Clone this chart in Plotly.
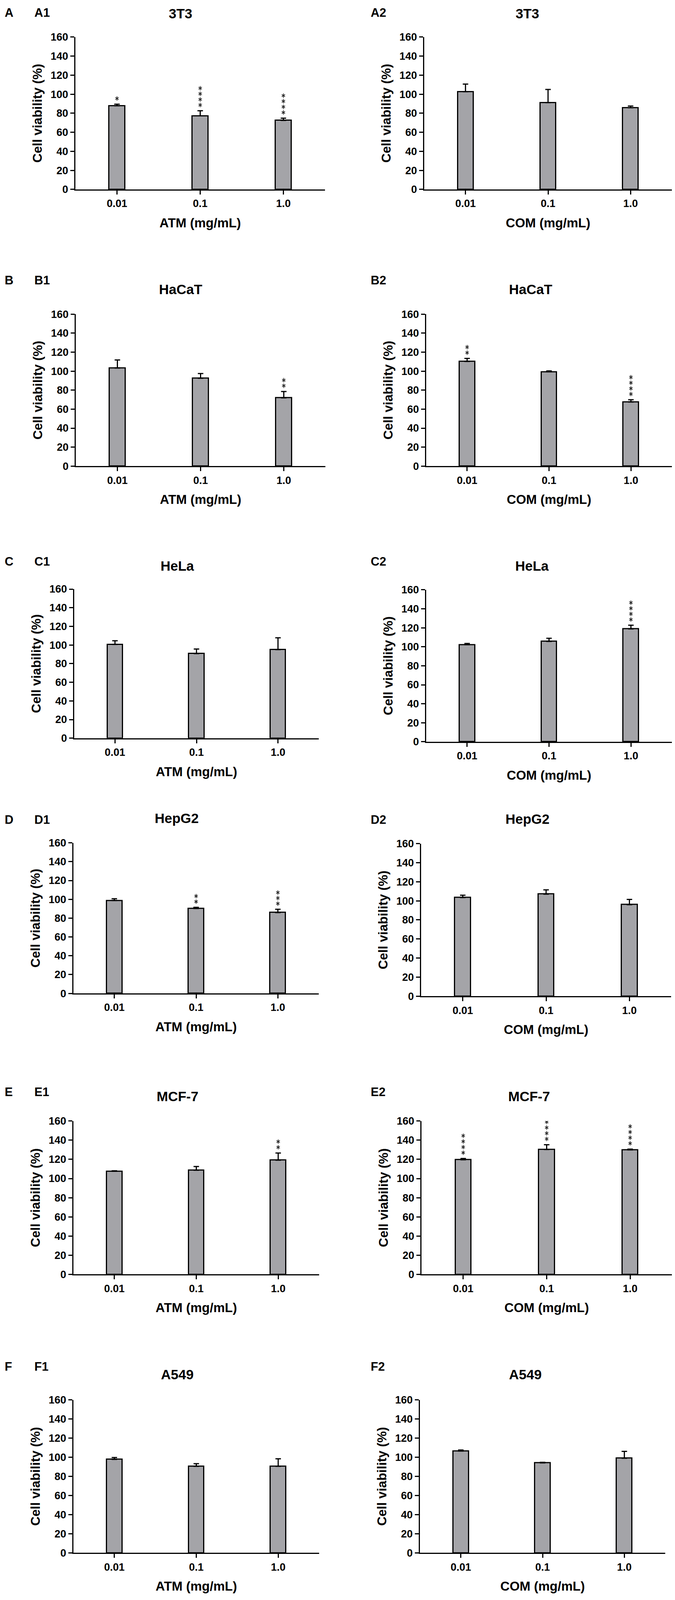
import plotly.graph_objects as go
from plotly.subplots import make_subplots

# values (mean, SD, significance marks)
cells = ["3T3", "HaCaT", "HeLa", "HepG2", "MCF-7", "A549"]
doses = ["0.01", "0.1", "1.0"]
row_letters = ["A", "B", "C", "D", "E", "F"]

atm_mean = [[87.9, 77.3, 72.5], [103.3, 92.5, 71.9], [100.6, 90.7, 95.0],
            [98.7, 90.2, 85.9], [107.6, 108.7, 119.2], [97.8, 90.5, 90.5]]
atm_sd = [[1.6, 5.3, 2.3], [8.5, 5.0, 6.7], [4.0, 5.0, 12.7],
          [1.9, 1.3, 3.5], [0.5, 3.8, 7.4], [1.9, 2.8, 7.9]]
atm_sig = [["*", "****", "****"], ["", "", "**"], ["", "", ""],
           ["", "**", "***"], ["", "", "**"], ["", "", ""]]

com_mean = [[102.6, 91.1, 85.8], [110.2, 99.3, 67.6], [102.2, 105.7, 118.8],
            [103.4, 107.0, 96.0], [119.6, 130.3, 129.9], [106.5, 94.1, 99.0]]
com_sd = [[8.0, 13.9, 1.7], [3.2, 1.0, 2.3], [1.3, 3.2, 3.9],
          [2.5, 4.5, 5.5], [1.3, 5.0, 0.8], [1.1, 0.6, 7.2]]
com_sig = [["", "", ""], ["**", "", "****"], ["", "", "****"],
           ["", "", ""], ["****", "****", "****"], ["", "", ""]]

FONT = "Liberation Sans, Arial, sans-serif"
BAR_GREY = "#a4a4a8"

# layout measured on the 1728 x 4431 original, squeezed to fit what gets captured
REF_H = 4431
SHOT_H = 4096
SY = SHOT_H / REF_H
OFF = 8  # body margin of the page
W = 1728 - 2 * OFF
H = SHOT_H - OFF

# pixel boxes of each plot area: (left, right, top, bottom)
boxes = {
    (1, 1): (193, 832, 87, 512), (1, 2): (1086, 1722, 87, 512),
    (2, 1): (194, 833, 860, 1284), (2, 2): (1091, 1728, 860, 1284),
    (3, 1): (190, 816, 1627, 2043), (3, 2): (1091, 1728, 1629, 2053),
    (4, 1): (188, 816, 2335, 2755), (4, 2): (1078, 1718, 2337, 2763),
    (5, 1): (188, 817, 3111, 3539), (5, 2): (1079, 1728, 3111, 3539),
    (6, 1): (188, 817, 3889, 4316), (6, 2): (1075, 1703, 3889, 4316),
}
# panel title centres and label rows (px)
title_pos = {
    (1, 1): (462, 21), (1, 2): (1350, 21),
    (2, 1): (462, 791), (2, 2): (1358, 791),
    (3, 1): (454, 1562), (3, 2): (1362, 1562),
    (4, 1): (452, 2266), (4, 2): (1350, 2268),
    (5, 1): (454, 3042), (5, 2): (1354, 3042),
    (6, 1): (454, 3818), (6, 2): (1345, 3818),
}
label_y = [19, 765, 1550, 2271, 3030, 3796]


def px_x(x):
    return min(max((x - OFF) / W, 0), 1)


def px_y(y):
    return min(max(1 - (y * SY - OFF) / H, 0), 1)


def bold(size):
    return dict(family=FONT, size=size, color="black", weight="bold")


fig = make_subplots(rows=6, cols=2)
annotations = []

for r in range(6):
    for c in range(2):
        row, col = r + 1, c + 1
        mean = atm_mean[r] if c == 0 else com_mean[r]
        sd = atm_sd[r] if c == 0 else com_sd[r]
        sig = atm_sig[r] if c == 0 else com_sig[r]
        drug = "ATM" if c == 0 else "COM"

        fig.add_trace(
            go.Bar(
                x=doses, y=mean, width=0.19,
                marker=dict(color=BAR_GREY, line=dict(color="black", width=3)),
                error_y=dict(type="data", symmetric=False, array=sd,
                             arrayminus=[0] * len(sd), color="black",
                             thickness=3, width=7),
                showlegend=False,
            ),
            row=row, col=col
        )

        # significance stars, stacked one above another (6-armed: y-up + y-down)
        sx, sy = [], []
        for j, s in enumerate(sig):
            for k in range(len(s)):
                sx.append(doses[j])
                sy.append(mean[j] + sd[j] + 6.0 + 5.9 * k)
        if sx:
            for sym in ["y-up-open", "y-down-open"]:
                fig.add_trace(
                    go.Scatter(
                        x=sx, y=sy, mode="markers",
                        marker=dict(symbol=sym, size=7, color="#222222",
                                    line=dict(color="#222222", width=1.8)),
                        showlegend=False, hoverinfo="skip",
                    ),
                    row=row, col=col
                )

        left, right, top, bottom = boxes[(row, col)]
        fig.update_xaxes(
            domain=[px_x(left), px_x(right)],
            type="category", range=[-0.5, 2.5],
            showline=True, linewidth=3, linecolor="black",
            ticks="outside", ticklen=10, tickwidth=3, tickcolor="black",
            showgrid=False, zeroline=False,
            tickfont=bold(27),
            title=dict(text=f"{drug} (mg/mL)", standoff=24, font=bold(33)),
            row=row, col=col
        )
        fig.update_yaxes(
            domain=[px_y(bottom), px_y(top)],
            range=[0, 160], tickvals=list(range(0, 161, 20)),
            showline=True, linewidth=3, linecolor="black",
            ticks="outside", ticklen=10, tickwidth=3, tickcolor="black",
            showgrid=False, zeroline=False,
            tickfont=bold(27),
            title=dict(text="Cell viability (%)", standoff=12, font=bold(33)),
            row=row, col=col
        )

        tx, ty = title_pos[(row, col)]
        annotations.append(dict(
            text=cells[r], x=px_x(tx), y=px_y(ty), xref="paper", yref="paper",
            xanchor="center", yanchor="middle", showarrow=False, font=bold(35)))
        annotations.append(dict(
            text=f"{row_letters[r]}{col}", x=px_x(86 if c == 0 else 947),
            y=px_y(label_y[r]), xref="paper", yref="paper",
            xanchor="left", yanchor="middle", showarrow=False, font=bold(31)))

    annotations.append(dict(
        text=row_letters[r], x=px_x(10), y=px_y(label_y[r]),
        xref="paper", yref="paper", xanchor="left", yanchor="middle",
        showarrow=False, font=bold(31)))

fig.update_layout(
    width=W, height=H,
    margin=dict(l=0, r=0, t=0, b=0),
    plot_bgcolor="white", paper_bgcolor="white",
    showlegend=False, bargap=0,
    annotations=annotations,
)

fig.write_html("out.html")
